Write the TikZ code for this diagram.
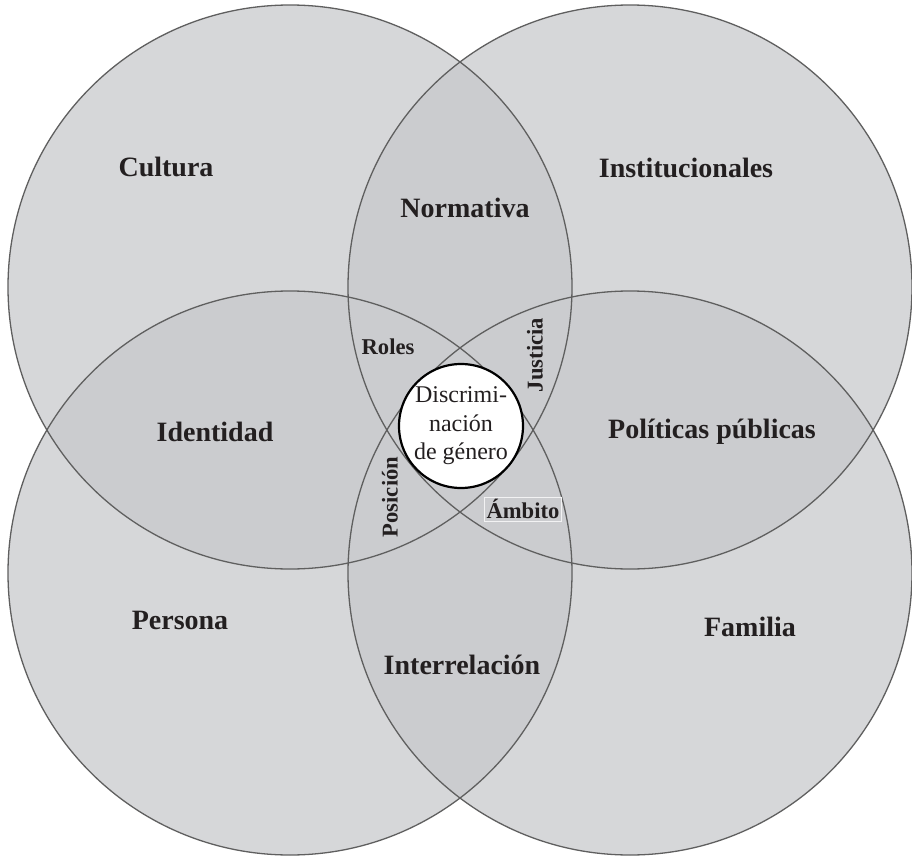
\documentclass[tikz,border=0pt]{standalone}
\usepackage{fontspec}
\setmainfont{Liberation Serif}
\definecolor{ringfill}{RGB}{214,215,217}
\definecolor{lensfill}{RGB}{203,204,207}
\definecolor{ringline}{RGB}{95,95,95}
\definecolor{inktext}{RGB}{35,31,32}
\tikzset{
  ring/.style={draw=ringline, line width=0.65pt},
  biglabel/.style={font=\fontsize{14}{16}\selectfont\bfseries, text=inktext},
  smalllabel/.style={font=\fontsize{11.3}{13}\selectfont\bfseries, text=inktext, inner sep=1pt},
}
\begin{document}
\begin{tikzpicture}[x=0.5pt,y=-0.5pt]
    \useasboundingbox (0,0) rectangle (912,857);

    \coordinate (Cul) at (290,287);
    \coordinate (Ins) at (630,287);
    \coordinate (Per) at (290,573);
    \coordinate (Fam) at (630,573);
    \coordinate (Mid) at (461,426);

    % the four circles and their overlaps
    \foreach \c in {Cul,Ins,Per,Fam}
      \fill[ringfill] (\c) circle[radius=141pt];
    \foreach \a/\b in {Cul/Ins,Cul/Per,Cul/Fam,Ins/Per,Ins/Fam,Per/Fam}{
      \begin{scope}
        \clip (\a) circle[radius=141pt];
        \fill[lensfill] (\b) circle[radius=141pt];
      \end{scope}
    }
    \foreach \c in {Cul,Ins,Per,Fam}
      \draw[ring] (\c) circle[radius=141pt];

    \node[biglabel] (cultura) at (166,167) {Cultura};
    \node[biglabel] (instit) at (686,168) {Institucionales};
    \node[biglabel] (persona) at (180,620) {Persona};
    \node[biglabel] (familia) at (750,627) {Familia};

    \node[biglabel] (normativa) at (465,208) {Normativa};
    \node[biglabel] (identidad) at (215,432) {Identidad};
    \node[biglabel] (politicas) at (712,432) {Políticas públicas};
    \node[biglabel] (interrel) at (462,665) {Interrelación};

    \node[smalllabel] (roles) at (388,347) {Roles};
    \node[smalllabel, rotate=90] (justicia) at (535,355) {Justicia};
    \node[smalllabel, rotate=90] (posicion) at (390,497) {Posición};
    \node[smalllabel, fill=lensfill, draw=white!75!lensfill, line width=0.3pt] (ambito) at (523,509) {Ámbito};

    \node[circle, draw=black, line width=1.1pt, fill=white, minimum size=62pt, inner sep=0pt,
          align=center, text=inktext, font=\fontsize{12}{14.2}\selectfont] (discrim) at (Mid)
          {Discrimi-\\nación\\de género};
\end{tikzpicture}
\end{document}
